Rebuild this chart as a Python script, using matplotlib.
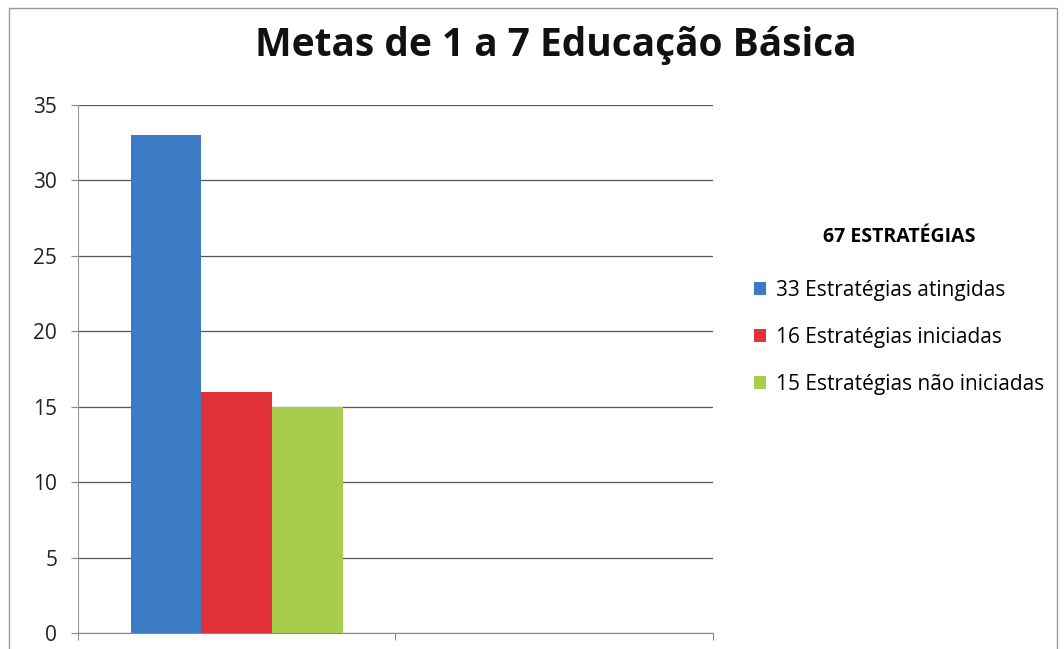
import matplotlib.pyplot as plt
import numpy as np

plt.rcParams['font.family'] = ['Open Sans', 'DejaVu Sans']

series = ['33 Estratégias atingidas', '16 Estratégias iniciadas', '15 Estratégias não iniciadas']
values = [33, 16, 15]
colors = ['#3b7bc6', '#e1323a', '#a8cd4a']
n_categories = 2  # second slot is left empty
legend_title = '67 ESTRATÉGIAS'
title = 'Metas de 1 a 7 Educação Básica'

fig = plt.figure(figsize=(10.64, 6.49), dpi=100)
ax = fig.add_axes([0.0733, 0.0247, 0.5967, 0.8135])

width = 0.223
offsets = (np.arange(len(values)) - 1) * width
for v, c, lab, off in zip(values, colors, series, offsets):
    ax.bar(0.5 + off, v, width=width, color=c, label=lab, zorder=3)

ax.set_xlim(0, n_categories)
ax.set_ylim(0, 35)
ax.set_yticks(range(0, 36, 5))
ax.set_xticks(range(0, n_categories + 1))
ax.set_xticklabels([])
ax.tick_params(axis='y', length=5, color='#888888', labelsize=15, pad=10, labelcolor='#222222')
ax.tick_params(axis='x', length=5, color='#888888', direction='out')
ax.yaxis.grid(True, color='#555555', linewidth=0.9, zorder=0)
for s in ['top', 'right']:
    ax.spines[s].set_visible(False)
ax.spines['left'].set_color('#999999')
ax.spines['bottom'].set_color('#888888')

fig.text(0.522, 0.93, title, ha='center', va='center', fontsize=28, fontweight='bold', color='#111111')

leg = ax.legend(loc='center left', bbox_to_anchor=(1.035, 0.61), frameon=False,
                title=legend_title, fontsize=15, handlelength=0.6, handleheight=0.6,
                handletextpad=0.45, labelspacing=1.25,
                title_fontproperties={'weight': 'bold', 'size': 14})
leg._legend_box.sep = 24

# thin frame around the whole chart area
fig.patches.append(plt.Rectangle((0.008, -0.02), 0.985, 1.008, transform=fig.transFigure,
                                 fill=False, edgecolor='#999999', linewidth=1))

fig.savefig('out.png', dpi=100)
